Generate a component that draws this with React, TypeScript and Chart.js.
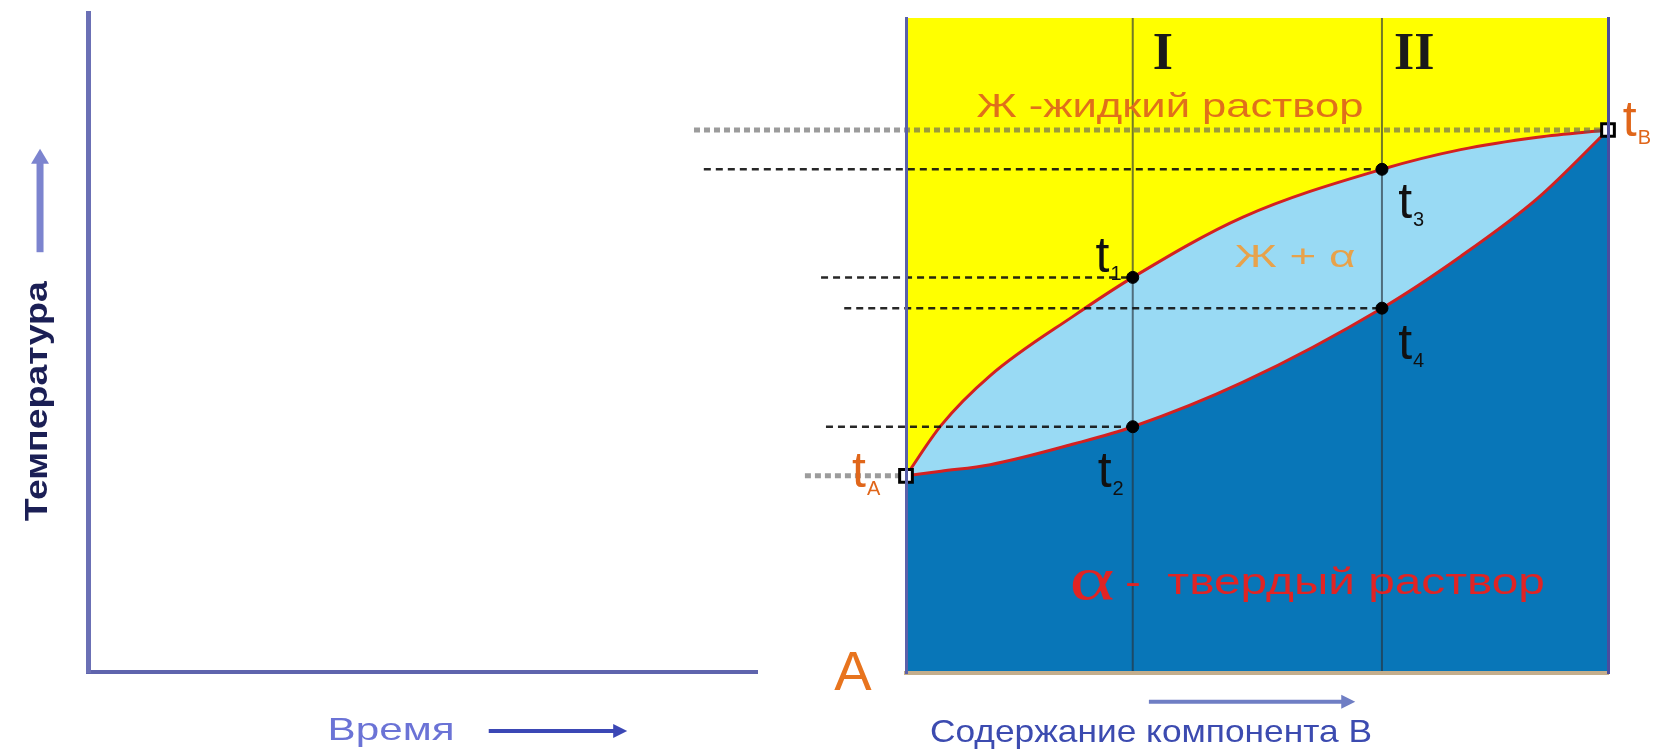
import React, { useEffect, useRef } from "react";
import { Chart, registerables } from "chart.js";

Chart.register(...registerables);

// ---------- data (composition of B: 0..1, temperature: 0..100 arbitrary units) ----------
const composition = [0, 0.05, 0.12, 0.24, 0.323, 0.48, 0.678, 0.79, 0.9, 1];
const liquidusT = [30.1, 37.8, 45.4, 54.6, 60.4, 69.6, 76.9, 79.9, 81.8, 82.9];
const solidusT = [30.1, 30.8, 31.8, 35.0, 37.6, 44.4, 55.7, 63.6, 72.5, 82.9];

const alloyNames = ["I", "II"];
const alloyX = [0.323, 0.678];

const criticalSubs = ["1", "2", "3", "4"];
const criticalAlloy = [0, 0, 1, 1];
const criticalCurve = ["liquidus", "solidus", "liquidus", "solidus"];
const criticalGuideStart = [-0.121, -0.114, -0.288, -0.088];

const pureSubs = ["A", "B"];
const pureX = [0, 1];
const pureGuideStart = [-0.144, -0.302];

// ---------- derived ----------
const curveAt = (curve: string, x: number) => {
  const i = composition.indexOf(x);
  return curve === "liquidus" ? liquidusT[i] : solidusT[i];
};
const criticalX = criticalAlloy.map((a) => alloyX[a]);
const criticalT = criticalAlloy.map((a, i) => curveAt(criticalCurve[i], alloyX[a]));
const pureT = pureX.map((x) => curveAt("liquidus", x));

const W = 1661;
const H = 752;
const SANS = "'Liberation Sans', Arial, sans-serif";
const SERIF = "'Liberation Serif', 'Times New Roman', serif";

type TextLabel = {
  text: string;
  x: number;
  y: number;
  size: number;
  color: string;
  weight?: string;
  family?: string;
  width?: number;
  rotate?: boolean;
};
type Arrow = { x1: number; y1: number; x2: number; y2: number; color: string; lw: number; hl: number; hw: number };
type TLabel = { sub: string; x: number; y: number; color: string };

const leftLabels: TextLabel[] = [
  { text: "Температура", x: -0.0747, y: 41.1, size: 32, weight: "bold", color: "#1b1f55", width: 240, rotate: true },
  { text: "Время", x: 0.453, y: -8.95, size: 32, color: "#6b73d6", width: 127 },
];
const leftArrows: Arrow[] = [
  { x1: -0.0717, y1: 63.7, x2: -0.0717, y2: 79.4, color: "#7c84cf", lw: 7, hl: 14, hw: 18 },
  { x1: 0.599, y1: -8.95, x2: 0.806, y2: -8.95, color: "#3b47b5", lw: 4, hl: 13, hw: 14 },
];

const rightLabels: TextLabel[] = [
  { text: alloyNames[0], x: 0.366, y: 94.3, size: 52, weight: "bold", family: SERIF, color: "#1a1a1a" },
  { text: alloyNames[1], x: 0.724, y: 94.3, size: 52, weight: "bold", family: SERIF, color: "#1a1a1a" },
  { text: "Ж -жидкий раствор", x: 0.376, y: 86.3, size: 34, color: "#e0701a", width: 387 },
  { text: "Ж + α", x: 0.554, y: 63.3, size: 32, color: "#e8a24a", width: 121 },
  { text: "α", x: 0.265, y: 13.8, size: 62, family: SERIF, color: "#e02424", width: 45 },
  { text: "-  твердый раствор", x: 0.611, y: 13.6, size: 36, color: "#e02424", width: 420 },
  { text: "A", x: -0.0755, y: -0.3, size: 56, color: "#e8741e" },
  { text: "Содержание компонента В", x: 0.349, y: -9.17, size: 32, color: "#3c4bb0", width: 442 },
];
const rightArrows: Arrow[] = [
  { x1: 0.346, y1: -4.4, x2: 0.64, y2: -4.4, color: "#6f7ec4", lw: 4, hl: 13, hw: 14 },
];
const tLabels: TLabel[] = [
  { sub: criticalSubs[0], x: 0.28, y: 61.2, color: "#111111" },
  { sub: criticalSubs[1], x: 0.283, y: 28.4, color: "#111111" },
  { sub: criticalSubs[2], x: 0.711, y: 69.5, color: "#111111" },
  { sub: criticalSubs[3], x: 0.711, y: 48.0, color: "#111111" },
  { sub: pureSubs[0], x: -0.067, y: 28.4, color: "#e0661a" },
  { sub: pureSubs[1], x: 1.031, y: 82.0, color: "#e0661a" },
];

function drawArrow(ctx: CanvasRenderingContext2D, a: Arrow, chart: any) {
  const xs = chart.scales.x;
  const ys = chart.scales.y;
  const x1 = xs.getPixelForValue(a.x1);
  const y1 = ys.getPixelForValue(a.y1);
  const x2 = xs.getPixelForValue(a.x2);
  const y2 = ys.getPixelForValue(a.y2);
  const ang = Math.atan2(y2 - y1, x2 - x1);
  ctx.save();
  ctx.strokeStyle = a.color;
  ctx.fillStyle = a.color;
  ctx.lineWidth = a.lw;
  ctx.beginPath();
  ctx.moveTo(x1, y1);
  ctx.lineTo(x2 - Math.cos(ang) * a.hl, y2 - Math.sin(ang) * a.hl);
  ctx.stroke();
  ctx.translate(x2, y2);
  ctx.rotate(ang);
  ctx.beginPath();
  ctx.moveTo(0, 0);
  ctx.lineTo(-a.hl - 1, -a.hw / 2);
  ctx.lineTo(-a.hl - 1, a.hw / 2);
  ctx.closePath();
  ctx.fill();
  ctx.restore();
}

function drawText(ctx: CanvasRenderingContext2D, l: TextLabel, chart: any) {
  const px = chart.scales.x.getPixelForValue(l.x);
  const py = chart.scales.y.getPixelForValue(l.y);
  ctx.save();
  ctx.translate(px, py);
  if (l.rotate) ctx.rotate(-Math.PI / 2);
  ctx.font = `${l.weight || "normal"} ${l.size}px ${l.family || SANS}`;
  ctx.fillStyle = l.color;
  ctx.textAlign = "center";
  ctx.textBaseline = "middle";
  const w = ctx.measureText(l.text).width;
  if (l.width) ctx.scale(l.width / w, 1);
  ctx.fillText(l.text, 0, 0);
  ctx.restore();
}

function drawT(ctx: CanvasRenderingContext2D, t: TLabel, chart: any) {
  const px = chart.scales.x.getPixelForValue(t.x);
  const py = chart.scales.y.getPixelForValue(t.y);
  ctx.save();
  ctx.fillStyle = t.color;
  ctx.font = `normal 50px ${SANS}`;
  ctx.textAlign = "center";
  ctx.textBaseline = "alphabetic";
  const tw = ctx.measureText("t").width;
  ctx.fillText("t", px, py);
  ctx.font = `normal 20px ${SANS}`;
  ctx.textAlign = "left";
  ctx.fillText(t.sub, px + tw / 2 + 1, py + 8);
  ctx.restore();
}

const hiddenAxis = (border: any, extra: any = {}) => ({
  type: "linear",
  display: true,
  grid: { display: false, drawTicks: false },
  ticks: { display: false },
  border: { display: true, z: 1, ...border },
  ...extra,
});

export default function App() {
  const leftRef = useRef<HTMLCanvasElement>(null);
  const rightRef = useRef<HTMLCanvasElement>(null);

  useEffect(() => {
    const leftChart = new Chart(leftRef.current as HTMLCanvasElement, {
      type: "line",
      data: { datasets: [] },
      options: {
        animation: false,
        responsive: false,
        events: [],
        layout: { padding: { left: 88, right: W - 757, top: 13, bottom: H - 672 } },
        plugins: { legend: { display: false }, tooltip: { enabled: false } },
        scales: {
          x: hiddenAxis({ color: "#5f64ad", width: 4 }, { min: 0, max: 1 }),
          y: hiddenAxis({ color: "#6b70b5", width: 5 }, { min: 0, max: 100 }),
        } as any,
      },
      plugins: [
        {
          id: "leftDecor",
          afterDraw(chart: any) {
            const ctx = chart.ctx;
            leftArrows.forEach((a) => drawArrow(ctx, a, chart));
            leftLabels.forEach((l) => drawText(ctx, l, chart));
          },
        },
      ],
    });

    const pts = (ys: number[]) => composition.map((x, i) => ({ x, y: ys[i] }));

    const datasets: any[] = [
      {
        label: "pure",
        data: pureX.map((x, i) => ({ x, y: pureT[i] })),
        showLine: false,
        pointStyle: "rect",
        pointRadius: 9,
        pointBackgroundColor: "#ffffff",
        pointBorderColor: "#000000",
        pointBorderWidth: 3,
        clip: false,
      },
      {
        label: "critical",
        data: criticalX.map((x, i) => ({ x, y: criticalT[i] })),
        showLine: false,
        pointStyle: "circle",
        pointRadius: 6,
        pointBackgroundColor: "#000000",
        pointBorderColor: "#000000",
        pointBorderWidth: 1,
        clip: false,
      },
      ...criticalX.map((x, i) => ({
        label: "guide" + i,
        data: [
          { x: criticalGuideStart[i], y: criticalT[i] },
          { x, y: criticalT[i] },
        ],
        borderColor: "rgba(15,15,15,0.9)",
        borderWidth: 2.5,
        borderDash: [7, 5],
        pointRadius: 0,
        fill: false,
        clip: false,
      })),
      ...pureX.map((x, i) => ({
        label: "pureGuide" + i,
        data: [
          { x: pureGuideStart[i], y: pureT[i] },
          { x, y: pureT[i] },
        ],
        borderColor: "rgba(95,95,95,0.62)",
        borderWidth: 5,
        borderDash: [6, 4],
        pointRadius: 0,
        fill: false,
        clip: false,
      })),
      ...alloyX.map((x, i) => ({
        label: "alloy " + alloyNames[i],
        data: [
          { x, y: 0 },
          { x, y: 100 },
        ],
        borderColor: "rgba(40,50,60,0.65)",
        borderWidth: 2,
        pointRadius: 0,
        fill: false,
      })),
      {
        label: "liquidus",
        data: pts(liquidusT),
        borderColor: "#d42020",
        borderWidth: 3,
        pointRadius: 0,
        cubicInterpolationMode: "monotone",
        fill: "end",
        backgroundColor: "#ffff00",
      },
      {
        label: "solidus",
        data: pts(solidusT),
        borderColor: "#d42020",
        borderWidth: 3,
        pointRadius: 0,
        cubicInterpolationMode: "monotone",
        fill: "start",
        backgroundColor: "#0876b8",
      },
    ];
    const solidusIndex = datasets.length - 1;
    datasets.push({
      label: "two-phase",
      data: pts(liquidusT),
      borderWidth: 0,
      borderColor: "rgba(0,0,0,0)",
      pointRadius: 0,
      cubicInterpolationMode: "monotone",
      fill: solidusIndex,
      backgroundColor: "#99daf4",
    });

    const rightChart = new Chart(rightRef.current as HTMLCanvasElement, {
      type: "line",
      data: { datasets },
      options: {
        animation: false,
        responsive: false,
        events: [],
        layout: { padding: { left: 906, right: W - 1608, top: 18, bottom: H - 673 } },
        plugins: { legend: { display: false }, tooltip: { enabled: false } },
        scales: {
          x: hiddenAxis({ color: "#c4ae8c", width: 4 }, { min: 0, max: 1 }),
          y: hiddenAxis({ color: "#5a60aa", width: 3 }, { min: 0, max: 100 }),
          y2: hiddenAxis({ color: "#4a4c9e", width: 3 }, { min: 0, max: 100, position: "right" }),
        } as any,
      },
      plugins: [
        {
          id: "rightDecor",
          afterDraw(chart: any) {
            const ctx = chart.ctx;
            rightArrows.forEach((a) => drawArrow(ctx, a, chart));
            rightLabels.forEach((l) => drawText(ctx, l, chart));
            tLabels.forEach((t) => drawT(ctx, t, chart));
          },
        },
      ],
    });

    return () => {
      leftChart.destroy();
      rightChart.destroy();
    };
  }, []);

  return (
    <div style={{ position: "fixed", left: 0, top: 0, width: W, height: H, background: "#ffffff" }}>
      <canvas ref={leftRef} width={W} height={H} style={{ position: "absolute", left: 0, top: 0 }} />
      <canvas ref={rightRef} width={W} height={H} style={{ position: "absolute", left: 0, top: 0 }} />
    </div>
  );
}
